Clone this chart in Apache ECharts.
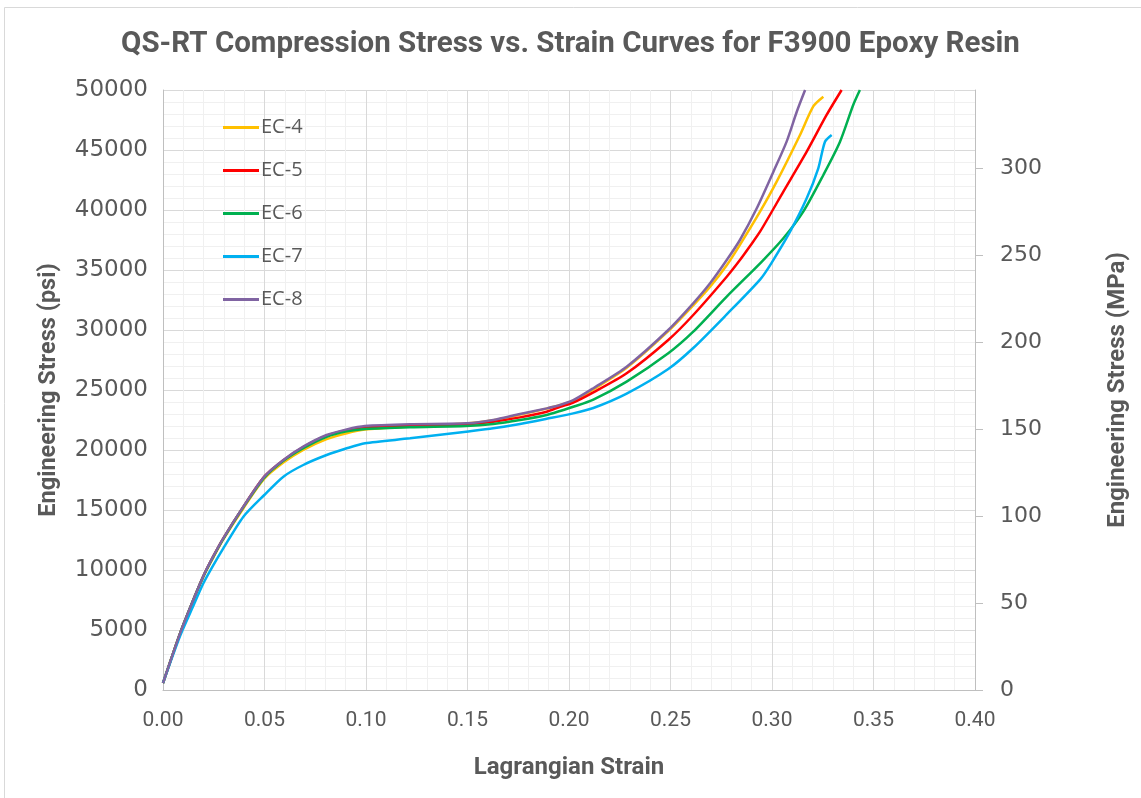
<!DOCTYPE html>
<html>
<head>
<meta charset="utf-8">
<script src="https://cdn.jsdelivr.net/npm/echarts@6/dist/echarts.min.js"></script>
<style>
html,body{margin:0;padding:0;background:#fff;}
#c{width:1141px;height:798px;}
</style>
</head>
<body>
<div id="c"></div>
<script>
// ---- data (strain, psi) ----
var seriesNames = ['EC-4', 'EC-5', 'EC-6', 'EC-7', 'EC-8'];
var ec4 = [[0,580],[0.0084,4700],[0.0149,7450],[0.0199,9450],[0.0248,11050],[0.0297,12550],[0.0396,15150],[0.0499,17600],[0.0593,18950],[0.0691,20000],[0.0806,20900],[0.0905,21400],[0.0995,21700],[0.1217,21950],[0.1493,22200],[0.1627,22480],[0.1759,22950],[0.189,23450],[0.2021,24100],[0.212,25050],[0.2284,26850],[0.2489,29900],[0.2612,32050],[0.2695,33600],[0.2777,35400],[0.2842,37100],[0.2941,39860],[0.3023,42360],[0.3138,46250],[0.3204,48650],[0.3253,49440]];
var ec5 = [[0,580],[0.0084,4720],[0.0149,7500],[0.0199,9500],[0.0248,11150],[0.0297,12640],[0.0396,15280],[0.0499,17780],[0.0593,19150],[0.0691,20250],[0.0806,21200],[0.0905,21650],[0.0995,21900],[0.1217,22000],[0.1493,22150],[0.1627,22360],[0.1759,22720],[0.189,23190],[0.1956,23600],[0.2021,23950],[0.212,24800],[0.2284,26390],[0.2489,29170],[0.2612,31250],[0.2777,34440],[0.2842,35830],[0.2892,37000],[0.2941,38190],[0.3056,41530],[0.3171,44860],[0.3269,47920],[0.3343,50000]];
var ec6 = [[0,580],[0.0084,4720],[0.0149,7500],[0.0199,9480],[0.0248,11120],[0.0297,12600],[0.0396,15250],[0.0499,17700],[0.0593,19100],[0.0691,20150],[0.0806,21100],[0.0905,21550],[0.0995,21750],[0.1217,21900],[0.1493,22000],[0.1627,22170],[0.1759,22500],[0.189,22920],[0.1956,23250],[0.2021,23600],[0.212,24200],[0.2284,25700],[0.2489,28060],[0.2612,29860],[0.2777,32780],[0.295,35700],[0.3056,37640],[0.3154,39860],[0.3253,42920],[0.3335,45690],[0.34,48750],[0.3433,50000]];
var ec7 = [[0,580],[0.0084,4500],[0.0149,7000],[0.0199,8890],[0.0248,10400],[0.0297,11800],[0.0396,14440],[0.0499,16250],[0.0593,17780],[0.0691,18750],[0.0806,19580],[0.0905,20140],[0.0995,20560],[0.1217,20970],[0.1493,21530],[0.1627,21810],[0.1759,22170],[0.189,22600],[0.2021,23050],[0.212,23500],[0.2284,24700],[0.2489,26750],[0.2612,28500],[0.2777,31300],[0.2941,34200],[0.2998,35600],[0.3089,38190],[0.3171,40970],[0.3228,43470],[0.3261,45690],[0.3294,46250]];
var ec8 = [[0,580],[0.0084,4720],[0.0149,7500],[0.0199,9500],[0.0248,11150],[0.0297,12640],[0.0396,15280],[0.0499,17780],[0.0593,19170],[0.0691,20280],[0.0806,21250],[0.0905,21720],[0.0995,22000],[0.1217,22150],[0.1493,22220],[0.1627,22500],[0.1759,23000],[0.189,23470],[0.1956,23750],[0.2021,24150],[0.212,25150],[0.2284,26940],[0.2489,30000],[0.2612,32220],[0.2695,33890],[0.2777,35830],[0.2842,37500],[0.2925,40140],[0.3007,43190],[0.3072,45700],[0.3122,48190],[0.3163,50000]];
var seriesData = [ec4, ec5, ec6, ec7, ec8];
var seriesColors = ['#FFC000', '#FF0000', '#00B050', '#00B0F0', '#8064A2'];
var mpaTicks = [0, 50, 100, 150, 200, 250, 300];
var psiToMpa = 0.00689476;

var txt = '#595959';
var chart = echarts.init(document.getElementById('c'), null, {renderer: 'canvas'});
var series = seriesNames.map(function (n, i) {
  return {
    name: n, type: 'line', xAxisIndex: 0, yAxisIndex: 0,
    data: seriesData[i], symbol: 'none', showSymbol: false,
    smooth: 0.25,
    lineStyle: {width: 2.5, color: seriesColors[i]},
    itemStyle: {color: seriesColors[i]}, z: 2 + i
  };
});
series.push({type: 'line', xAxisIndex: 0, yAxisIndex: 1, data: [], silent: true});

chart.setOption({
  animation: false,
  backgroundColor: '#fff',
  title: {
    text: 'QS-RT Compression Stress vs. Strain Curves for F3900 Epoxy Resin',
    left: 'center', top: 25,
    textStyle: {fontFamily: 'Roboto', fontWeight: 'bold', fontSize: 29.5, color: txt}
  },
  legend: {
    data: seriesNames, orient: 'vertical', left: 218, top: 111,
    icon: 'rect', itemWidth: 36, itemHeight: 3, itemGap: 20,
    textStyle: {fontFamily: 'Open Sans', fontSize: 20, color: txt, lineHeight: 23, padding: [0,0,0,-3]}
  },
  grid: {left: 163, right: 166, top: 90, bottom: 108, containLabel: false},
  xAxis: {
    type: 'value', min: 0, max: 0.4, interval: 0.05,
    name: 'Lagrangian Strain', nameLocation: 'middle', nameGap: 66,
    nameTextStyle: {fontFamily: 'Roboto', fontWeight: 'bold', fontSize: 24, color: txt},
    axisLine: {show: true, lineStyle: {color: '#BFBFBF', width: 1}},
    axisTick: {show: false},
    axisLabel: {fontFamily: 'Roboto', fontSize: 21, color: txt, margin: 20,
      formatter: function (v) { return v.toFixed(2); }},
    splitLine: {show: true, lineStyle: {color: '#D9D9D9', width: 1}},
    minorTick: {show: false, splitNumber: 5},
    minorSplitLine: {show: true, lineStyle: {color: '#F0F0F0', width: 1}}
  },
  yAxis: [{
    type: 'value', min: 0, max: 50000, interval: 5000, position: 'left',
    name: 'Engineering Stress (psi)', nameLocation: 'middle', nameGap: 102, nameRotate: 90,
    nameTextStyle: {fontFamily: 'Roboto', fontWeight: 'bold', fontSize: 23.5, color: txt},
    axisLine: {show: true, lineStyle: {color: '#BFBFBF', width: 1}},
    axisTick: {show: false},
    axisLabel: {fontFamily: 'DejaVu Sans', fontSize: 23, color: txt, margin: 15,
      formatter: function (v) { return String(v); }},
    splitLine: {show: true, lineStyle: {color: '#D9D9D9', width: 1}},
    minorTick: {show: false, splitNumber: 5},
    minorSplitLine: {show: true, lineStyle: {color: '#F0F0F0', width: 1}}
  }, {
    type: 'value', min: 0, max: 50000 * psiToMpa, position: 'right',
    name: 'Engineering Stress (MPa)', nameLocation: 'middle', nameGap: 131, nameRotate: 90,
    nameTextStyle: {fontFamily: 'Roboto', fontWeight: 'bold', fontSize: 24, color: txt},
    axisLine: {show: true, lineStyle: {color: '#BFBFBF', width: 1}},
    axisTick: {show: true, inside: false, length: 8, lineStyle: {color: '#BFBFBF'}, customValues: mpaTicks},
    axisLabel: {fontFamily: 'DejaVu Sans', fontSize: 22, color: txt, margin: 25, customValues: mpaTicks,
      formatter: function (v) { return String(v); }},
    splitLine: {show: false}
  }],
  graphic: [{
    type: 'rect', shape: {x: 4.5, y: 7.5, width: 1150, height: 800}, silent: true, z: -1,
    style: {fill: 'none', stroke: '#D9D9D9', lineWidth: 1}
  }],
  series: series
});
</script>
</body>
</html>
